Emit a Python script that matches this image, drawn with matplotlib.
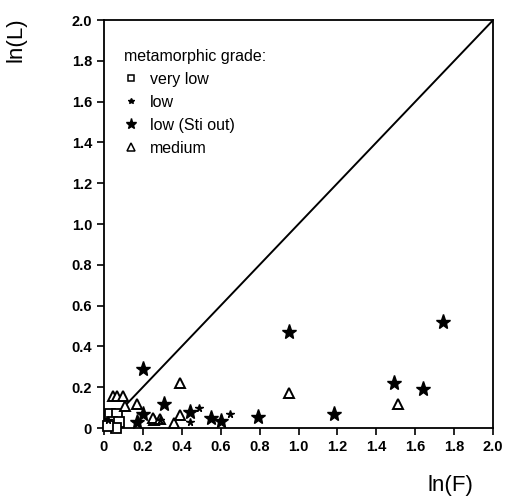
import matplotlib
matplotlib.use("Agg")
import matplotlib.pyplot as plt
from matplotlib.lines import Line2D

# very low (open squares)
vlow_x = [0.03, 0.07, 0.04, 0.08, 0.06, 0.02]
vlow_y = [0.07, 0.07, 0.03, 0.03, 0.00, 0.01]

# low (small stars)
low_x = [0.49, 0.65, 0.44, 0.02, 0.29]
low_y = [0.10, 0.07, 0.03, 0.04, 0.04]

# low (Sti out) (filled stars)
sti_x = [0.20, 0.31, 0.44, 0.20, 0.17, 0.55, 0.60, 0.79, 0.95, 1.18, 1.49, 1.64, 1.74]
sti_y = [0.29, 0.12, 0.08, 0.07, 0.03, 0.05, 0.035, 0.055, 0.47, 0.07, 0.22, 0.19, 0.52]

# medium (open triangles)
med_x = [0.95, 1.51, 0.39, 0.17, 0.045, 0.07, 0.10, 0.11, 0.26, 0.36, 0.39, 0.25, 0.29]
med_y = [0.17, 0.12, 0.22, 0.12, 0.155, 0.155, 0.155, 0.11, 0.04, 0.025, 0.065, 0.05, 0.045]

ticks = [0, 0.2, 0.4, 0.6, 0.8, 1.0, 1.2, 1.4, 1.6, 1.8, 2.0]
tick_labels = ["0", "0.2", "0.4", "0.6", "0.8", "1.0", "1.2", "1.4", "1.6", "1.8", "2.0"]

plt.rcParams['font.family'] = ['Liberation Sans', 'DejaVu Sans']

fig = plt.figure(figsize=(5.09, 5.0), dpi=100)
ax = fig.add_axes([0.204, 0.144, 0.765, 0.816])

ax.plot([0, 2], [0, 2], color='black', lw=1.4, zorder=1)

ax.plot(vlow_x, vlow_y, linestyle='none', marker='s', ms=6.5, mfc='white',
        mec='black', mew=1.3, zorder=3, clip_on=False)
ax.plot(med_x, med_y, linestyle='none', marker='^', ms=7.5, mfc='white',
        mec='black', mew=1.4, zorder=3, clip_on=False)
ax.plot(sti_x, sti_y, linestyle='none', marker='*', ms=11, mfc='black',
        mec='black', zorder=4, clip_on=False)
ax.plot(low_x, low_y, linestyle='none', marker='*', ms=5.5, mfc='black',
        mec='black', zorder=4, clip_on=False)

ax.set_xlim(0, 2.0)
ax.set_ylim(0, 2.0)
ax.set_xticks(ticks)
ax.set_xticklabels(tick_labels)
ax.set_yticks(ticks)
ax.set_yticklabels(tick_labels)
ax.tick_params(direction='out', length=5, width=1.2, labelsize=10.5, colors='black')
for lab in ax.get_xticklabels() + ax.get_yticklabels():
    lab.set_fontweight('bold')
for s in ax.spines.values():
    s.set_linewidth(1.3)

handles = [
    Line2D([], [], linestyle='none', marker='s', ms=5, mfc='white', mec='black', mew=1.1),
    Line2D([], [], linestyle='none', marker='*', ms=4, mfc='black', mec='black'),
    Line2D([], [], linestyle='none', marker='*', ms=8, mfc='black', mec='black'),
    Line2D([], [], linestyle='none', marker='^', ms=5.5, mfc='white', mec='black', mew=1.1),
]
labels = ["very low", "low", "low (Sti out)", "medium"]
leg = ax.legend(handles, labels, title="metamorphic grade:", loc='upper left',
                bbox_to_anchor=(0.015, 0.965), frameon=False, fontsize=11.5,
                title_fontsize=11.5, handlelength=0.9, handletextpad=0.7,
                labelspacing=0.5, alignment='left')

fig.text(0.032, 0.92, "ln(L)", rotation=90, fontsize=16, ha='center', va='center')
fig.text(0.885, 0.03, "ln(F)", fontsize=16, ha='center', va='center')

fig.savefig("out.png", dpi=100)
